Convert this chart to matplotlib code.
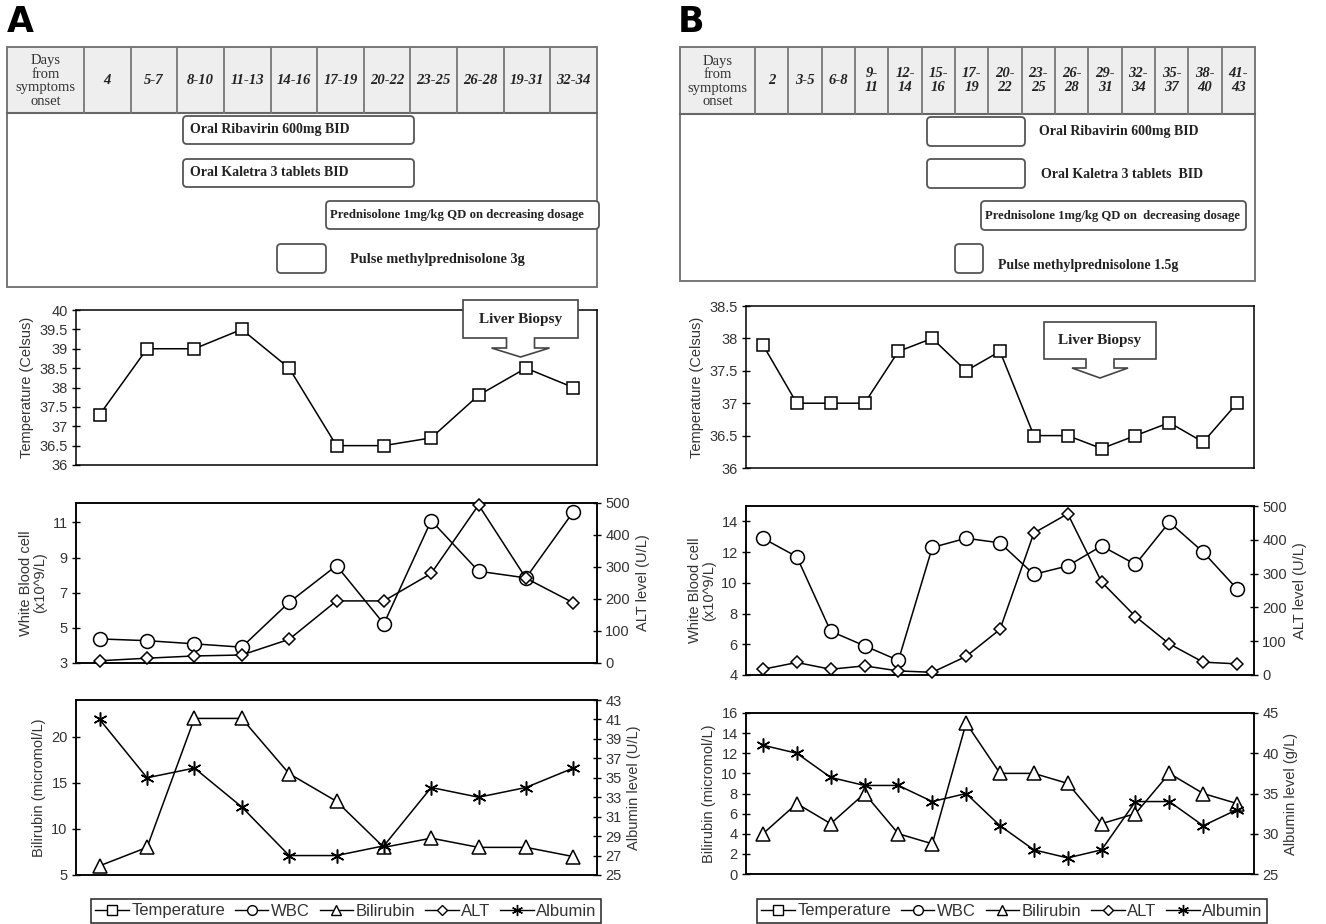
import matplotlib
matplotlib.use("Agg")
import matplotlib.pyplot as plt
from matplotlib.patches import Rectangle, FancyBboxPatch, Polygon
from matplotlib.lines import Line2D

W, H = 1326, 924

# -------------------------------
# DATA
# -------------------------------
days_a = ["4", "5-7", "8-10", "11-13", "14-16", "17-19", "20-22",
          "23-25", "26-28", "19-31", "32-34"]
temp_a = [37.3, 39.0, 39.0, 39.5, 38.5, 36.5, 36.5, 36.7, 37.8, 38.5, 38.0]
wbc_a = [4.37, 4.27, 4.09, 3.9, 6.45, 8.54, 5.23, 11.1, 8.22, 7.84, 11.6]
alt_a = [7, 15, 22, 25, 74, 194, 194, 280, 494, 265, 188]
bili_a = [6, 8, 22, 22, 16, 13, 8, 9, 8, 8, 7]
alb_a = [41, 35, 36, 32, 27, 27, 28, 34, 33, 34, 36]

days_b = ["2", "3-5", "6-8", "9-\n11", "12-\n14", "15-\n16", "17-\n19",
          "20-\n22", "23-\n25", "26-\n28", "29-\n31", "32-\n34", "35-\n37",
          "38-\n40", "41-\n43"]
temp_b = [37.9, 37.0, 37.0, 37.0, 37.8, 38.0, 37.5, 37.8, 36.5, 36.5, 36.3,
          36.5, 36.7, 36.4, 37.0]
wbc_b = [12.9, 11.7, 6.85, 5.9, 4.95, 12.3, 12.9, 12.6, 10.55, 11.1, 12.4,
         11.2, 13.95, 12.0, 9.6]
alt_b = [17, 37, 17, 27, 12, 8, 55, 135, 420, 477, 275, 173, 92, 38, 33]
bili_b = [4, 7, 5, 8, 4, 3, 15, 10, 10, 9, 5, 6, 10, 8, 7]
alb_b = [41, 40, 37, 36, 36, 34, 35, 31, 28, 27, 28, 34, 34, 31, 33]

SERIF = "Liberation Serif"
SANS = "Liberation Sans"
TICK_COL = "#333333"

fig = plt.figure(figsize=(W / 100, H / 100), dpi=100)


def px_axes(x0, y0, x1, y1):
    return fig.add_axes([x0 / W, 1 - y1 / H, (x1 - x0) / W, (y1 - y0) / H])


def style(ax, ylim, yticks, ylabel, right=False):
    ax.set_ylim(*ylim)
    ax.set_yticks(yticks)
    ax.set_yticklabels(["%g" % t for t in yticks], fontfamily=SANS,
                       fontsize=10.5, color=TICK_COL)
    ax.tick_params(axis="y", direction="inout", length=6, width=1,
                   colors="black", labelcolor=TICK_COL, pad=3)
    if right:
        ax.yaxis.tick_right()
        ax.yaxis.set_label_position("right")
    ax.set_ylabel(ylabel, fontfamily=SANS, fontsize=10.5, color=TICK_COL,
                  linespacing=1.0)
    for s in ax.spines.values():
        s.set_linewidth(1.1)


def series(ax, vals, marker, ms):
    ax.plot(range(len(vals)), vals, color="black", lw=1.1, marker=marker,
            ms=ms, mfc="white", mec="black", mew=1.1, clip_on=False,
            zorder=3)


def chart_panel(left, right, n, temp, wbc, alt, bili, alb, boxes, cfg):
    # temperature
    ta = px_axes(left, boxes[0][0], right, boxes[0][1])
    ta.set_xlim(-0.5, n - 0.5)
    ta.set_xticks([])
    style(ta, cfg["temp_lim"], cfg["temp_ticks"], "Temperature (Celsus)")
    series(ta, temp, "s", 9)

    # WBC + ALT
    wa = px_axes(left, boxes[1][0], right, boxes[1][1])
    wa.set_xlim(-0.5, n - 0.5)
    wa.set_xticks([])
    style(wa, cfg["wbc_lim"], cfg["wbc_ticks"],
          "White Blood cell\n(x10^9/L)")
    wa2 = wa.twinx()
    style(wa2, (0, 500), [0, 100, 200, 300, 400, 500], "ALT level (U/L)",
          right=True)
    series(wa, wbc, "o", 10)
    series(wa2, alt, "D", 6)

    # Bilirubin + Albumin
    ba = px_axes(left, boxes[2][0], right, boxes[2][1])
    ba.set_xlim(-0.5, n - 0.5)
    ba.set_xticks([])
    style(ba, cfg["bili_lim"], cfg["bili_ticks"], "Bilirubin (micromol/L)")
    ba2 = ba.twinx()
    style(ba2, cfg["alb_lim"], cfg["alb_ticks"], cfg["alb_label"],
          right=True)
    series(ba, bili, "^", 10)
    series(ba2, alb, (6, 2, 0), 10)


# -------------------------------
# CHARTS
# -------------------------------
chart_panel(76, 597, len(days_a), temp_a, wbc_a, alt_a, bili_a, alb_a,
            [(310, 465), (503, 663), (700, 875)],
            dict(temp_lim=(36, 40),
                 temp_ticks=[36, 36.5, 37, 37.5, 38, 38.5, 39, 39.5, 40],
                 wbc_lim=(3, 12.1), wbc_ticks=[3, 5, 7, 9, 11],
                 bili_lim=(5, 24), bili_ticks=[5, 10, 15, 20],
                 alb_lim=(25, 43), alb_ticks=list(range(25, 44, 2)),
                 alb_label="Albumin level (U/L)"))

chart_panel(746, 1254, len(days_b), temp_b, wbc_b, alt_b, bili_b, alb_b,
            [(306, 468), (506, 675), (713, 874)],
            dict(temp_lim=(36, 38.5),
                 temp_ticks=[36, 36.5, 37, 37.5, 38, 38.5],
                 wbc_lim=(4, 15), wbc_ticks=[4, 6, 8, 10, 12, 14],
                 bili_lim=(0, 16), bili_ticks=list(range(0, 17, 2)),
                 alb_lim=(25, 45), alb_ticks=[25, 30, 35, 40, 45],
                 alb_label="Albumin level (g/L)"))

# -------------------------------
# LEGENDS
# -------------------------------
handles = [
    Line2D([], [], color="k", lw=1, marker="s", ms=7, mfc="w", mec="k"),
    Line2D([], [], color="k", lw=1, marker="o", ms=7, mfc="w", mec="k"),
    Line2D([], [], color="k", lw=1, marker="^", ms=7, mfc="w", mec="k"),
    Line2D([], [], color="k", lw=1, marker="D", ms=5, mfc="w", mec="k"),
    Line2D([], [], color="k", lw=1, marker=(6, 2, 0), ms=8, mfc="w", mec="k"),
]
labels = ["Temperature", "WBC", "Bilirubin", "ALT", "Albumin"]
for cx in (346, 1012):
    leg = fig.legend(handles, labels, loc="center",
                     bbox_to_anchor=(cx / W, 1 - 911 / H), ncol=5,
                     frameon=True, fancybox=False, edgecolor="black",
                     handlelength=2.0, handletextpad=0.15,
                     columnspacing=0.6, borderpad=0.25,
                     prop={"family": SANS, "size": 12})
    leg.get_frame().set_linewidth(1.2)
    for t in leg.get_texts():
        t.set_color(TICK_COL)

# -------------------------------
# TABLES, TREATMENT BARS, CALLOUTS (pixel overlay)
# -------------------------------
ov = fig.add_axes([0, 0, 1, 1])
ov.set_xlim(0, W)
ov.set_ylim(H, 0)
ov.axis("off")
ov.patch.set_alpha(0)


def table(x0, x1, first_w, top, hbot, bot, days, dsize):
    ov.add_patch(Rectangle((x0, top), x1 - x0, hbot - top, fc="#eeeeee",
                           ec="none"))
    ov.add_patch(Rectangle((x0, top), x1 - x0, bot - top, fc="none",
                           ec="#777777", lw=1.4))
    ov.plot([x0, x1], [hbot, hbot], color="#666666", lw=1.5)
    ov.text(x0 + first_w / 2, (top + hbot) / 2 + 1,
            "Days\nfrom\nsymptoms\nonset",
            ha="center", va="center", fontfamily=SERIF, fontsize=10.5,
            linespacing=1.05, color="#333333")
    cw = (x1 - x0 - first_w) / len(days)
    for i, d in enumerate(days):
        xl = x0 + first_w + i * cw
        ov.plot([xl, xl], [top, hbot], color="#777777", lw=1.3)
        ov.text(xl + cw / 2, (top + hbot) / 2, d, ha="center", va="center",
                fontfamily=SERIF, fontsize=dsize, fontweight="bold",
                fontstyle="italic", linespacing=1.15, color="#222222")


def rbox(x0, y0, x1, y1):
    ov.add_patch(FancyBboxPatch((x0, y0), x1 - x0, y1 - y0,
                                boxstyle="round,pad=0,rounding_size=4",
                                fc="white", ec="#555555", lw=1.3))


def label(x, y, s, size=10, ha="left"):
    ov.text(x, y, s, ha=ha, va="center", fontfamily=SERIF, fontsize=size,
            fontweight="bold", color="#222222")


def callout(x0, y0, x1, y1, neck, head, yneck, ytip):
    cx = (x0 + x1) / 2
    pts = [(x0, y0), (x1, y0), (x1, y1), (cx + neck, y1), (cx + neck, yneck),
           (cx + head, yneck), (cx, ytip), (cx - head, yneck),
           (cx - neck, yneck), (cx - neck, y1), (x0, y1)]
    ov.add_patch(Polygon(pts, closed=True, fc="white", ec="#444444", lw=1.2,
                         zorder=5))
    ov.text(cx, (y0 + y1) / 2, "Liver Biopsy", ha="center", va="center",
            fontfamily=SERIF, fontsize=11, fontweight="bold",
            color="#222222", zorder=6)


# panel letters
ov.text(7, 22, "A", fontfamily="DejaVu Sans", fontsize=25,
        fontweight="bold", va="center")
ov.text(678, 22, "B", fontfamily="DejaVu Sans", fontsize=25,
        fontweight="bold", va="center")

# panel A
table(7, 597, 77, 47, 113, 287, days_a, 10.5)
rbox(183, 116, 414, 144)
label(190, 130, "Oral Ribavirin 600mg BID")
rbox(183, 159, 414, 187)
label(190, 173, "Oral Kaletra 3 tablets BID")
rbox(326, 201, 599, 229)
label(330, 215, "Prednisolone 1mg/kg QD on decreasing dosage", size=9.2)
rbox(277, 244, 326, 273)
label(350, 259, "Pulse methylprednisolone 3g", size=10.3)
callout(463, 300, 578, 338, 14, 29, 348, 357)

# panel B
table(680, 1255, 75, 47, 114, 281, days_b, 10.5)
rbox(927, 117, 1025, 146)
label(1039, 132, "Oral Ribavirin 600mg BID")
rbox(927, 159, 1025, 188)
label(1041, 174, "Oral Kaletra 3 tablets  BID")
rbox(981, 201, 1246, 230)
label(985, 216, "Prednisolone 1mg/kg QD on  decreasing dosage", size=9.1)
rbox(955, 244, 983, 273)
label(998, 266, "Pulse methylprednisolone 1.5g")
callout(1044, 322, 1156, 359, 14, 28, 368, 378)

fig.savefig("out.png", dpi=100)
